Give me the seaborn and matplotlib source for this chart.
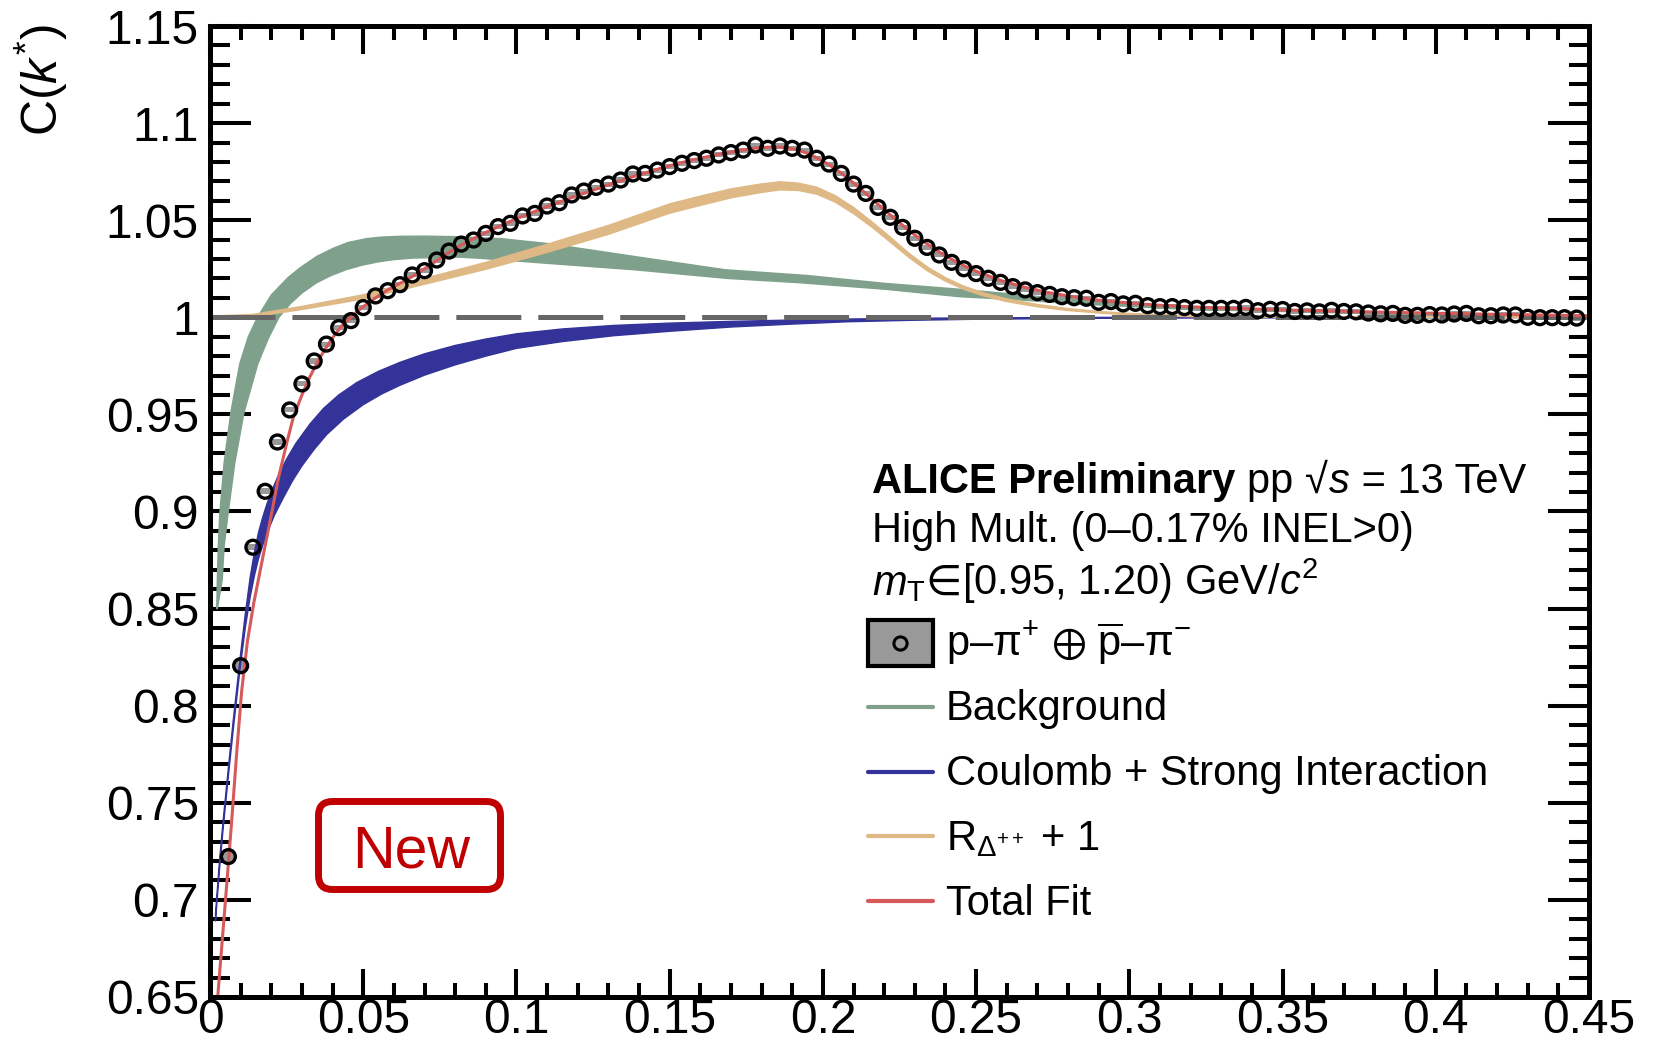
import numpy as np
import matplotlib
matplotlib.use("Agg")
import matplotlib.pyplot as plt
import seaborn as sns
from matplotlib.patches import Rectangle, FancyBboxPatch
from matplotlib.lines import Line2D
from matplotlib.ticker import MultipleLocator
from matplotlib.transforms import IdentityTransform

# ---------------- measured correlation function ----------------
k_data = [
    0.006, 0.010, 0.014, 0.018, 0.022, 0.026, 0.030, 0.034, 0.038, 0.042,
    0.046, 0.050, 0.054, 0.058, 0.062, 0.066, 0.070, 0.074, 0.078, 0.082,
    0.086, 0.090, 0.094, 0.098, 0.102, 0.106, 0.110, 0.114, 0.118, 0.122,
    0.126, 0.130, 0.134, 0.138, 0.142, 0.146, 0.150, 0.154, 0.158, 0.162,
    0.166, 0.170, 0.174, 0.178, 0.182, 0.186, 0.190, 0.194, 0.198, 0.202,
    0.206, 0.210, 0.214, 0.218, 0.222, 0.226, 0.230, 0.234, 0.238, 0.242,
    0.246, 0.250, 0.254, 0.258, 0.262, 0.266, 0.270, 0.274, 0.278, 0.282,
    0.286, 0.290, 0.294, 0.298, 0.302, 0.306, 0.310, 0.314, 0.318, 0.322,
    0.326, 0.330, 0.334, 0.338, 0.342, 0.346, 0.350, 0.354, 0.358, 0.362,
    0.366, 0.370, 0.374, 0.378, 0.382, 0.386, 0.390, 0.394, 0.398, 0.402,
    0.406, 0.410, 0.414, 0.418, 0.422, 0.426, 0.430, 0.434, 0.438, 0.442,
    0.446,
]
c_data = [
    0.7223, 0.8206, 0.8816, 0.9104, 0.9358, 0.9523, 0.9657, 0.9775, 0.9862, 0.9947,
    0.9983, 1.0050, 1.0110, 1.0137, 1.0168, 1.0218, 1.0240, 1.0295, 1.0341, 1.0377,
    1.0398, 1.0432, 1.0467, 1.0484, 1.0522, 1.0535, 1.0573, 1.0590, 1.0630, 1.0650,
    1.0669, 1.0686, 1.0707, 1.0738, 1.0741, 1.0758, 1.0776, 1.0793, 1.0807, 1.0819,
    1.0836, 1.0848, 1.0861, 1.0887, 1.0870, 1.0882, 1.0870, 1.0861, 1.0819, 1.0789,
    1.0741, 1.0686, 1.0638, 1.0566, 1.0515, 1.0463, 1.0407, 1.0360, 1.0321, 1.0283,
    1.0250, 1.0225, 1.0201, 1.0180, 1.0158, 1.0141, 1.0127, 1.0118, 1.0106, 1.0101,
    1.0098, 1.0077, 1.0081, 1.0069, 1.0072, 1.0060, 1.0055, 1.0055, 1.0050, 1.0046,
    1.0046, 1.0046, 1.0046, 1.0051, 1.0034, 1.0041, 1.0040, 1.0030, 1.0033, 1.0028,
    1.0036, 1.0030, 1.0028, 1.0022, 1.0018, 1.0020, 1.0010, 1.0010, 1.0014, 1.0012,
    1.0017, 1.0020, 1.0008, 1.0008, 1.0012, 1.0012, 1.0000, 0.9998, 0.9998, 0.9998,
    0.9996,
]
# systematic uncertainty: larger in the first bins, flat elsewhere
sys_low = [0.0034, 0.0032, 0.0016, 0.0015, 0.0014]
sys_flat = 0.0013
box_width = 0.0036

# ---------------- background band ----------------
bg_k_hi = [0.0022, 0.0024, 0.0027, 0.0032, 0.0046, 0.0068, 0.0097, 0.0125, 0.0155, 0.0200,
           0.0255, 0.0294, 0.0350, 0.0402, 0.0450, 0.0511, 0.0560, 0.0620, 0.0700, 0.081,
           0.095, 0.110, 0.139, 0.168, 0.195, 0.220, 0.245, 0.265, 0.290, 0.320,
           0.350, 0.400, 0.450]
bg_hi = [0.850, 0.865, 0.882, 0.899, 0.925, 0.951, 0.976, 0.990, 1.000, 1.0115,
         1.0205, 1.0255, 1.0315, 1.0355, 1.0385, 1.0405, 1.0413, 1.0417, 1.0418, 1.0415,
         1.0405, 1.0380, 1.0312, 1.0245, 1.0215, 1.0175, 1.0144, 1.0115, 1.0078, 1.0052,
         1.0036, 1.0020, 1.0010]
bg_k_lo = [0.0024, 0.0040, 0.0046, 0.0059, 0.0081, 0.0111, 0.0156, 0.0190, 0.0225, 0.0262,
           0.0300, 0.0348, 0.0395, 0.0444, 0.0495, 0.0547, 0.0600, 0.0662, 0.081, 0.088,
           0.110, 0.139, 0.169, 0.1925, 0.2206, 0.2447, 0.2637, 0.2815, 0.320, 0.350,
           0.400, 0.450]
bg_lo = [0.850, 0.865, 0.882, 0.899, 0.925, 0.951, 0.976, 0.989, 1.000, 1.0070,
         1.0125, 1.0178, 1.0215, 1.0245, 1.0268, 1.0285, 1.0297, 1.0305, 1.0310, 1.0304,
         1.0278, 1.0244, 1.0200, 1.0178, 1.0144, 1.0106, 1.0090, 1.0070, 1.0040, 1.0030,
         1.0012, 1.0005]

# ---------------- Coulomb + strong interaction band ----------------
cs_k_hi = [0.0018, 0.0030, 0.0043, 0.0060, 0.0076, 0.0098, 0.0115, 0.0131, 0.0145, 0.0158,
           0.0172, 0.0185, 0.0200, 0.0220, 0.0250, 0.0280, 0.0326, 0.0370, 0.0420, 0.0480,
           0.0550, 0.0620, 0.0700, 0.0800, 0.0900, 0.1000, 0.1150, 0.1316, 0.150, 0.170,
           0.190, 0.208, 0.230, 0.250, 0.300, 0.450]
cs_hi = [0.693, 0.718, 0.741, 0.768, 0.7926, 0.824, 0.847, 0.866, 0.879, 0.889,
         0.8970, 0.9035, 0.9100, 0.9175, 0.9270, 0.9350, 0.9450, 0.9530, 0.9600, 0.9665,
         0.9722, 0.9768, 0.9812, 0.9855, 0.9888, 0.9915, 0.9940, 0.9958, 0.9970, 0.9979,
         0.9986, 0.9991, 0.9995, 0.9997, 1.0000, 1.0000]
cs_k_lo = [0.0018, 0.0030, 0.0043, 0.0060, 0.0076, 0.0098, 0.0115, 0.0131, 0.0145, 0.0158,
           0.0172, 0.0185, 0.0210, 0.0239, 0.0270, 0.0300, 0.0340, 0.0380, 0.0435, 0.0500,
           0.0560, 0.0620, 0.0700, 0.0800, 0.0900, 0.1000, 0.1150, 0.1316, 0.150, 0.170,
           0.190, 0.208, 0.230, 0.250, 0.300, 0.450]
cs_lo = [0.689, 0.714, 0.737, 0.764, 0.788, 0.819, 0.840, 0.856, 0.867, 0.8755,
         0.8825, 0.8885, 0.8980, 0.9070, 0.9160, 0.9235, 0.9320, 0.9395, 0.9475, 0.9550,
         0.9605, 0.9650, 0.9702, 0.9755, 0.9800, 0.9840, 0.9875, 0.9905, 0.9928, 0.9950,
         0.9965, 0.9977, 0.9985, 0.9990, 0.9996, 0.9999]

# ---------------- Delta++ resonance band (centre and half width) ----------------
dl_k = [0.000, 0.014, 0.030, 0.050, 0.070, 0.090, 0.110, 0.130, 0.150, 0.160,
        0.170, 0.180, 0.186, 0.192, 0.198, 0.204, 0.210, 0.216, 0.222, 0.228,
        0.234, 0.240, 0.246, 0.252, 0.260, 0.270, 0.280, 0.290, 0.300, 0.320,
        0.350, 0.450]
dl_mid = [1.0002, 1.0009, 1.0048, 1.0105, 1.0185, 1.0265, 1.0355, 1.0450, 1.0560, 1.0600,
          1.0638, 1.0665, 1.0677, 1.0672, 1.0652, 1.0610, 1.0550, 1.0478, 1.0400, 1.0320,
          1.0250, 1.0195, 1.0152, 1.0120, 1.0088, 1.0060, 1.0040, 1.0026, 1.0016, 1.0006,
          1.0002, 1.0000]
dl_half = [0.0004, 0.0006, 0.0008, 0.0011, 0.0015, 0.0018, 0.0021, 0.0023, 0.0024, 0.0024,
           0.0023, 0.0022, 0.0021, 0.0019, 0.0018, 0.0017, 0.0016, 0.0014, 0.0013, 0.0011,
           0.0010, 0.0009, 0.0008, 0.0008, 0.0007, 0.0006, 0.0005, 0.0004, 0.0004, 0.0003,
           0.0002, 0.0001]

# ---------------- total fit ----------------
fit_k = [0.0018, 0.0027, 0.0054, 0.0071, 0.0087, 0.0103, 0.0122, 0.0143, 0.0163, 0.0182,
         0.0201, 0.0223, 0.0250, 0.0272, 0.0300, 0.0326, 0.0354, 0.0381, 0.0408, 0.0435,
         0.0470, 0.0500, 0.0540, 0.0577, 0.062, 0.066, 0.070, 0.074, 0.078, 0.082,
         0.086, 0.090, 0.094, 0.098, 0.102, 0.106, 0.110, 0.114, 0.118, 0.122,
         0.126, 0.130, 0.134, 0.138, 0.142, 0.146, 0.150, 0.154, 0.158, 0.162,
         0.166, 0.170, 0.174, 0.178, 0.182, 0.186, 0.190, 0.194, 0.198, 0.202,
         0.206, 0.210, 0.214, 0.218, 0.222, 0.226, 0.230, 0.234, 0.238, 0.242,
         0.246, 0.250, 0.258, 0.266, 0.274, 0.282, 0.290, 0.300, 0.310, 0.320,
         0.335, 0.350, 0.375, 0.400, 0.425, 0.450]
fit_c = [0.635, 0.6536, 0.7068, 0.7411, 0.7755, 0.8070, 0.8330, 0.8530, 0.8690, 0.8840,
         0.8990, 0.9170, 0.9350, 0.9486, 0.9600, 0.9694, 0.9780, 0.9849, 0.9912, 0.9965,
         1.0015, 1.0055, 1.0100, 1.0138, 1.0175, 1.0210, 1.0250, 1.0292, 1.0335, 1.0372,
         1.0405, 1.0437, 1.0466, 1.0494, 1.0520, 1.0545, 1.0570, 1.0593, 1.0616, 1.0638,
         1.0660, 1.0682, 1.0703, 1.0724, 1.0743, 1.0762, 1.0780, 1.0797, 1.0812, 1.0826,
         1.0839, 1.0851, 1.0862, 1.0871, 1.0876, 1.0876, 1.0868, 1.0850, 1.0822, 1.0786,
         1.0742, 1.0692, 1.0638, 1.0582, 1.0527, 1.0474, 1.0424, 1.0378, 1.0336, 1.0299,
         1.0266, 1.0237, 1.0190, 1.0154, 1.0126, 1.0105, 1.0088, 1.0073, 1.0062, 1.0054,
         1.0045, 1.0038, 1.0029, 1.0021, 1.0014, 1.0008]

# ---------------- axes labels ----------------
x_ticks = [0, 0.05, 0.1, 0.15, 0.2, 0.25, 0.3, 0.35, 0.4, 0.45]
x_labels = ["0", "0.05", "0.1", "0.15", "0.2", "0.25", "0.3", "0.35", "0.4", "0.45"]
y_ticks = [0.65, 0.7, 0.75, 0.8, 0.85, 0.9, 0.95, 1.0, 1.05, 1.1, 1.15]
y_labels = ["0.65", "0.7", "0.75", "0.8", "0.85", "0.9", "0.95", "1", "1.05", "1.1", "1.15"]

legend_labels = [
    r"p–$\mathrm{\pi}^{+}$ $\oplus$ $\overline{\mathrm{p}}$–$\mathrm{\pi}^{-}$",
    "Background",
    "Coulomb + Strong Interaction",
    r"R$_{\Delta^{++}}$ + 1",
    "Total Fit",
]

# ---------------- colours ----------------
col_bg = "#7fa18b"
col_cs = "#333399"
col_dl = "#dfb985"
col_fit = "#d65a5a"
col_sys = "#999999"
col_new = "#c00000"

# ---------------- style ----------------
sns.set_theme(style="ticks")
plt.rcParams["font.family"] = ["Liberation Sans", "DejaVu Sans"]
plt.rcParams["mathtext.fontset"] = "custom"
plt.rcParams["mathtext.rm"] = "Liberation Sans"
plt.rcParams["mathtext.it"] = "Liberation Sans:italic"
plt.rcParams["mathtext.bf"] = "Liberation Sans:bold"
plt.rcParams["mathtext.fallback"] = "stixsans"
plt.rcParams["lines.scale_dashes"] = False
for key in ["text.color", "axes.labelcolor", "xtick.color", "ytick.color", "axes.edgecolor"]:
    plt.rcParams[key] = "black"

W, H = 1655, 1049
fig = plt.figure(figsize=(W / 100, H / 100), dpi=100)
fig.patch.set_facecolor("white")
ax = fig.add_axes([210 / W, 1 - 997 / H, 1379 / W, 971 / H])
ax.set_facecolor("white")
renderer = fig.canvas.get_renderer()


def fx(px):
    return px / W


def fy(py):
    return 1 - py / H


def text_run(x_px, y_px, pieces, size):
    """Write consecutive text pieces on one baseline, each starting where the last ended."""
    x = x_px
    for s, kw in pieces:
        t = fig.text(fx(x), fy(y_px), s, fontsize=size, va="baseline", **kw)
        x = t.get_window_extent(renderer).x1
    return x


k_arr = np.asarray(k_data)
c_arr = np.asarray(c_data)
sys_err = np.full(len(k_arr), sys_flat)
sys_err[: len(sys_low)] = sys_low

# systematic boxes
ax.bar(k_arr, 2 * sys_err, bottom=c_arr - sys_err, width=box_width,
       color=col_sys, linewidth=0, zorder=2)


# model bands
def band(k_hi, hi, k_lo, lo, color):
    xs = np.r_[k_hi, np.asarray(k_lo)[::-1]]
    ys = np.r_[hi, np.asarray(lo)[::-1]]
    ax.fill(xs, ys, facecolor=color, edgecolor=color, linewidth=1.0, zorder=3)


band(bg_k_hi, bg_hi, bg_k_lo, bg_lo, col_bg)
band(cs_k_hi, cs_hi, cs_k_lo, cs_lo, col_cs)
dl_mid_a, dl_half_a = np.asarray(dl_mid), np.asarray(dl_half)
band(dl_k, dl_mid_a + dl_half_a, dl_k, dl_mid_a - dl_half_a, col_dl)

# baseline
ax.axhline(1.0, color="#666666", linewidth=3.6, dashes=(46.8, 12.2), zorder=4)

# total fit
sns.lineplot(x=fit_k, y=fit_c, color=col_fit, linewidth=2.2, sort=False,
             estimator=None, ax=ax, zorder=5)

# data points
sns.scatterplot(x=k_arr, y=c_arr, marker="o", facecolors="none",
                edgecolor="black", zorder=6, ax=ax, legend=False)
pts = ax.collections[-1]
pts.set_sizes([100])
pts.set_facecolor("none")
pts.set_edgecolor("black")
pts.set_linewidth(2.4)

# axes
ax.set_xlim(0, 0.45)
ax.set_ylim(0.65, 1.15)
ax.set_xlabel("")
ax.set_ylabel("")
ax.set_xticks(x_ticks, labels=x_labels)
ax.set_yticks(y_ticks, labels=y_labels)
ax.xaxis.set_minor_locator(MultipleLocator(0.01))
ax.yaxis.set_minor_locator(MultipleLocator(0.01))
for sp in ax.spines.values():
    sp.set_visible(True)
    sp.set_linewidth(3.6)
    sp.set_color("black")
    sp.set_zorder(10)
ax.tick_params(axis="y", which="major", direction="in", length=29.5, width=2.9,
               left=True, right=True, labelsize=34.5, pad=8)
ax.tick_params(axis="y", which="minor", direction="in", length=14.5, width=2.9,
               left=True, right=True)
ax.tick_params(axis="x", which="major", direction="in", length=20, width=2.9,
               top=True, bottom=True, labelsize=34.5, pad=1)
ax.tick_params(axis="x", which="minor", direction="in", length=10, width=2.9,
               top=True, bottom=True)
ax.grid(False)

# y title
fig.text(fx(41), fy(24), r"C($k^{*}$)", rotation=90, ha="center", va="top", fontsize=36)

# header text
fs = 30
text_run(872, 492.7, [("ALICE Preliminary ", {"fontweight": "bold"}),
                      ("pp ", {}), ("√", {}), (r"$s$", {}), (" = 13 TeV", {})], fs)
fig.text(fx(872), fy(541.7), "High Mult. (0–0.17% INEL>0)", fontsize=fs, va="baseline")
text_run(872, 595, [(r"$m_{\mathrm{T}}$", {}), ("∈", {"family": "DejaVu Sans"}),
                    (r"[0.95, 1.20) GeV/$c^{2}$", {})], fs)

# legend
fig.add_artist(Rectangle((fx(868), fy(666)), fx(932.6) - fx(868), fy(620) - fy(666),
                         transform=fig.transFigure, facecolor=col_sys, edgecolor="black",
                         linewidth=3))
fig.add_artist(Line2D([fx(900)], [fy(643)], marker="o", markersize=9.5, markerfacecolor="none",
                      markeredgecolor="black", markeredgewidth=2.2, linestyle="none",
                      transform=fig.transFigure))
key_rows = [706.7, 771.5, 836.3, 901.1]
key_cols = [col_bg, col_cs, col_dl, col_fit]
for yy, cc in zip(key_rows, key_cols):
    fig.add_artist(Line2D([fx(868), fx(932.6)], [fy(yy), fy(yy)], color=cc, linewidth=3,
                          transform=fig.transFigure))
label_base = [656.5] + [y + 13.5 for y in key_rows]
for yb, lab in zip(label_base, legend_labels):
    fig.text(fx(946), fy(yb), lab, fontsize=fs, va="baseline")

# "New" badge
badge = FancyBboxPatch((315 + 3.5, H - 893 + 3.5), 189 - 7, 95 - 7,
                       boxstyle="round,pad=0,rounding_size=14",
                       transform=IdentityTransform(), facecolor="none",
                       edgecolor=col_new, linewidth=5)
fig.add_artist(badge)
fig.text(fx(411), fy(867.3), "New", fontsize=42.5, color=col_new, ha="center", va="baseline")

fig.savefig("out.png", dpi=100, facecolor="white")
